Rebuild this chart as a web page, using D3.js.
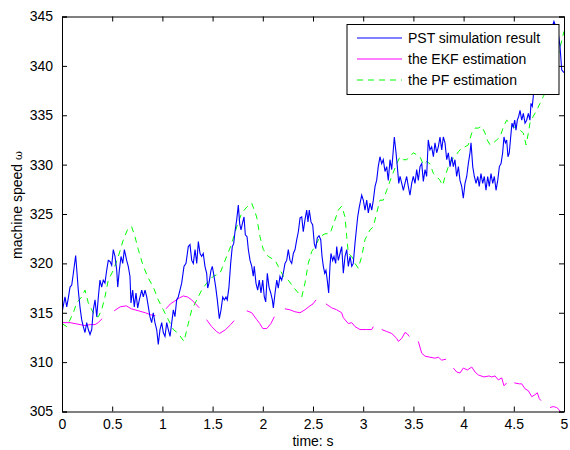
<!DOCTYPE html>
<html>
<head>
<meta charset="utf-8">
<script src="https://cdn.jsdelivr.net/npm/d3@7"></script>
<style>
	body { margin: 0; background: #fff; }
	svg { display: block; font-family: "Liberation Sans", Arial, sans-serif; }
</style>
</head>
<body>
<div class="canvas"></div>
<script>
// x ticks / y ticks
const xTicks = [0, 0.5, 1, 1.5, 2, 2.5, 3, 3.5, 4, 4.5, 5];
const yTicks = [305, 310, 315, 320, 325, 330, 335, 340, 345];

const seriesNames = ['PST simulation result', 'the EKF estimation', 'the PF estimation'];

// PST simulation result [time, speed]
const pst = [
	[0.00,315.0],[0.03,316.6],[0.047,315.6],[0.063,316.5],[0.08,317.6],[0.097,317.8],[0.113,319.0],[0.136,320.8],
	[0.146,319.5],[0.162,317.3],[0.179,315.6],[0.196,314.3],[0.212,313.6],[0.229,313.0],[0.246,314.0],[0.262,313.3],
	[0.279,312.8],[0.296,313.3],[0.312,315.3],[0.329,316.3],[0.346,314.6],[0.362,316.6],[0.378,318.3],[0.395,317.6],
	[0.411,318.3],[0.428,318.0],[0.445,319.3],[0.461,320.3],[0.478,320.2],[0.495,319.8],[0.511,321.4],[0.528,320.7],
	[0.545,319.3],[0.555,317.6],[0.571,319.3],[0.588,320.7],[0.605,320.0],[0.621,321.4],[0.644,320.3],[0.660,319.7],
	[0.677,318.7],[0.687,316.0],[0.704,317.3],[0.720,315.6],[0.737,317.0],[0.754,315.5],[0.770,316.3],[0.794,317.3],
	[0.810,316.6],[0.827,317.3],[0.844,316.6],[0.860,315.6],[0.876,314.6],[0.893,314.0],[0.909,315.0],[0.926,314.0],
	[0.943,313.3],[0.959,311.8],[0.976,313.3],[0.993,314.0],[1.009,313.0],[1.026,312.6],[1.043,314.0],[1.059,313.3],
	[1.076,312.6],[1.093,314.0],[1.109,315.3],[1.125,314.6],[1.142,316.3],[1.158,316.6],[1.175,317.3],[1.192,318.0],
	[1.215,319.7],[1.235,320.0],[1.258,321.7],[1.275,321.9],[1.292,320.3],[1.308,320.0],[1.325,321.4],[1.342,320.0],
	[1.358,322.2],[1.375,321.0],[1.391,320.7],[1.407,321.0],[1.424,319.7],[1.441,319.0],[1.451,317.5],[1.464,318.0],
	[1.484,319.3],[1.497,319.7],[1.514,318.7],[1.531,317.6],[1.547,316.3],[1.567,314.4],[1.584,315.3],[1.601,316.6],
	[1.617,316.3],[1.633,316.6],[1.646,316.3],[1.663,317.6],[1.680,320.0],[1.696,321.7],[1.710,322.0],[1.723,323.2],
	[1.740,324.4],[1.756,325.9],[1.770,324.0],[1.783,323.4],[1.796,324.0],[1.813,324.7],[1.826,322.9],[1.843,322.7],
	[1.856,321.4],[1.873,320.3],[1.890,319.7],[1.905,318.7],[1.915,319.7],[1.932,318.0],[1.949,317.3],[1.965,318.3],
	[1.982,317.0],[1.999,318.3],[2.015,316.6],[2.029,316.1],[2.045,319.0],[2.062,317.6],[2.079,317.0],[2.095,316.3],
	[2.105,315.5],[2.122,317.0],[2.139,318.3],[2.154,317.5],[2.171,318.7],[2.188,318.3],[2.204,319.0],[2.221,320.0],
	[2.238,320.3],[2.254,321.4],[2.271,320.3],[2.288,320.0],[2.304,321.0],[2.321,321.4],[2.338,322.4],[2.354,323.2],
	[2.371,324.6],[2.388,324.7],[2.403,323.2],[2.420,324.4],[2.437,325.4],[2.450,324.2],[2.463,325.4],[2.480,324.2],
	[2.497,323.9],[2.513,322.0],[2.527,321.5],[2.543,322.6],[2.560,322.8],[2.577,322.4],[2.590,320.7],[2.603,319.7],
	[2.617,319.0],[2.629,319.3],[2.642,318.3],[2.656,317.0],[2.669,319.7],[2.679,321.0],[2.696,320.3],[2.709,320.7],
	[2.726,320.0],[2.736,321.7],[2.752,320.3],[2.769,321.0],[2.786,321.7],[2.802,319.0],[2.819,320.7],[2.836,321.4],
	[2.852,319.7],[2.869,320.7],[2.886,319.7],[2.901,320.0],[2.918,322.0],[2.928,323.0],[2.945,324.7],[2.961,325.7],
	[2.985,326.9],[3.001,326.4],[3.018,325.4],[3.035,326.4],[3.051,325.1],[3.068,326.1],[3.085,325.4],[3.101,326.4],
	[3.118,327.8],[3.134,328.4],[3.150,329.8],[3.167,330.8],[3.184,330.1],[3.200,330.5],[3.217,329.3],[3.234,329.8],
	[3.250,328.4],[3.267,330.5],[3.284,329.5],[3.300,331.5],[3.310,332.8],[3.327,331.2],[3.340,329.8],[3.354,328.1],
	[3.367,328.8],[3.384,328.1],[3.400,327.4],[3.416,328.1],[3.433,328.8],[3.449,327.8],[3.466,326.9],[3.483,328.1],
	[3.499,328.8],[3.516,328.1],[3.533,329.5],[3.549,328.4],[3.566,329.8],[3.583,330.1],[3.599,328.3],[3.616,329.5],
	[3.632,328.8],[3.648,332.5],[3.665,331.5],[3.682,331.8],[3.699,330.8],[3.715,332.2],[3.732,331.2],[3.748,331.8],
	[3.765,332.8],[3.782,331.5],[3.798,332.8],[3.815,332.2],[3.832,330.5],[3.848,331.2],[3.865,329.8],[3.882,330.8],
	[3.898,329.8],[3.914,330.5],[3.931,328.8],[3.948,329.8],[3.964,328.4],[3.981,327.8],[3.997,326.6],[4.014,328.1],
	[4.031,328.8],[4.047,330.1],[4.064,331.2],[4.074,332.2],[4.091,329.8],[4.107,328.8],[4.124,328.1],[4.141,328.8],
	[4.156,327.8],[4.173,329.1],[4.190,328.1],[4.206,328.8],[4.223,327.4],[4.240,328.8],[4.256,327.8],[4.273,329.1],
	[4.290,328.1],[4.306,328.8],[4.323,327.4],[4.340,328.4],[4.356,329.8],[4.373,330.1],[4.389,331.2],[4.402,332.8],
	[4.416,332.2],[4.429,332.5],[4.442,330.8],[4.455,331.2],[4.469,332.8],[4.482,334.2],[4.495,333.8],[4.509,334.5],
	[4.522,333.5],[4.535,334.5],[4.549,334.9],[4.562,335.5],[4.579,334.5],[4.595,335.2],[4.612,334.2],[4.628,334.5],
	[4.645,335.2],[4.661,334.5],[4.671,336.2],[4.684,335.9],[4.694,336.9],[4.711,339.6],[4.728,341.3],[4.76,342.5],
	[4.80,344.0],[4.85,343.0],[4.90,344.5],[4.943,343.3],[4.960,342.0],[4.977,339.6],[4.993,339.4],[5.0,339.3]
];

// EKF estimation, null marks a gap
const ekf = [
	[0.00,314.0],[0.08,314.0],[0.13,313.9],[0.18,313.8],[0.23,313.7],[0.28,313.8],[0.33,313.8],[0.36,314.0],[0.40,314.4],
	[0.46,null],
	[0.52,315.2],[0.58,315.6],[0.64,315.7],[0.69,315.4],[0.76,315.2],[0.83,315.0],[0.88,314.8],[0.93,314.7],
	[0.98,null],
	[1.036,315.4],[1.08,315.9],[1.125,316.2],[1.17,316.5],[1.208,316.7],[1.25,316.6],[1.292,316.3],[1.33,315.9],[1.367,315.5],
	[1.40,null],
	[1.44,314.3],[1.49,313.6],[1.54,313.1],[1.57,312.9],[1.63,313.3],[1.68,313.8],[1.715,314.2],
	[1.78,null],
	[1.84,315.2],[1.89,315.0],[1.94,314.3],[1.97,313.9],[2.00,313.4],[2.04,313.4],[2.08,313.9],[2.115,314.6],
	[2.17,null],
	[2.22,315.4],[2.27,315.3],[2.32,315.1],[2.37,315.0],[2.42,315.3],[2.47,315.7],[2.50,315.9],[2.53,316.3],
	[2.58,null],
	[2.629,315.9],[2.686,315.5],[2.736,315.3],[2.786,315.0],[2.802,314.5],[2.852,313.9],[2.886,314.0],[2.918,313.6],
	[2.968,313.3],[3.035,313.3],[3.085,313.3],[3.101,313.6],
	[3.14,null],
	[3.184,313.3],[3.234,313.1],[3.284,312.9],[3.334,312.4],[3.350,312.1],[3.384,312.4],[3.416,313.0],[3.436,312.9],[3.459,312.6],
	[3.50,null],
	[3.549,312.1],[3.583,310.9],[3.616,310.6],[3.665,310.5],[3.715,310.4],[3.748,310.5],[3.782,310.2],[3.825,310.3],
	[3.86,null],
	[3.898,309.4],[3.931,309.0],[3.964,308.9],[3.997,309.4],[4.037,309.2],[4.081,309.5],[4.114,309.0],[4.147,308.7],
	[4.203,308.5],[4.253,308.6],[4.280,308.5],[4.313,308.6],[4.346,308.2],[4.380,308.4],[4.402,307.6],[4.429,307.9],
	[4.47,null],
	[4.505,307.9],[4.555,307.8],[4.579,307.8],[4.612,307.3],[4.645,307.1],[4.679,306.5],[4.711,306.7],[4.734,306.9],
	[4.754,306.3],[4.771,306.1],
	[4.82,null],
	[4.861,305.4],[4.893,305.5],[4.927,305.4],[4.950,305.2],[4.977,304.8],[5.0,304.5]
];

// PF estimation
const pf = [
	[0.00,313.9],[0.047,313.6],[0.113,315.0],[0.146,316.0],[0.196,316.6],[0.229,317.3],[0.262,316.0],[0.296,315.3],
	[0.329,314.6],[0.362,314.6],[0.395,315.3],[0.428,316.6],[0.461,318.3],[0.511,319.3],[0.561,320.7],[0.611,322.4],
	[0.660,323.6],[0.694,323.7],[0.727,322.7],[0.760,321.4],[0.810,319.7],[0.860,318.5],[0.909,317.6],[0.959,316.3],
	[1.009,315.3],[1.059,314.3],[1.109,313.3],[1.158,312.9],[1.215,312.1],[1.258,313.9],[1.292,315.3],[1.342,316.3],
	[1.391,317.3],[1.441,318.0],[1.507,318.7],[1.574,319.0],[1.640,320.7],[1.690,322.0],[1.740,323.7],[1.790,325.1],
	[1.840,325.7],[1.890,326.1],[1.939,324.7],[1.972,322.7],[2.005,321.4],[2.055,320.7],[2.122,320.3],[2.154,319.7],
	[2.204,318.7],[2.254,318.3],[2.304,317.6],[2.354,317.0],[2.388,316.6],[2.420,318.0],[2.453,320.0],[2.487,321.2],
	[2.520,321.7],[2.570,322.7],[2.620,323.0],[2.669,323.0],[2.719,324.4],[2.752,325.4],[2.786,325.8],[2.819,324.7],
	[2.836,322.7],[2.852,321.0],[2.886,320.7],[2.918,320.0],[2.951,319.5],[2.985,320.7],[3.018,322.4],[3.068,323.4],
	[3.101,323.7],[3.134,325.1],[3.167,326.4],[3.200,326.4],[3.234,327.4],[3.284,328.8],[3.334,330.1],[3.367,330.8],
	[3.400,330.5],[3.433,330.5],[3.466,330.8],[3.499,331.2],[3.533,331.0],[3.566,330.8],[3.599,330.0],[3.632,330.3],
	[3.665,330.1],[3.699,329.1],[3.732,328.8],[3.765,328.4],[3.792,327.9],[3.815,328.8],[3.848,329.8],[3.882,330.5],
	[3.914,330.8],[3.948,331.3],[3.981,331.7],[4.014,331.8],[4.047,332.0],[4.081,333.2],[4.114,333.7],[4.147,333.7],
	[4.180,333.9],[4.213,333.2],[4.236,332.5],[4.263,332.0],[4.296,332.2],[4.330,332.5],[4.363,332.8],[4.396,333.8],
	[4.429,334.5],[4.462,334.2],[4.495,333.8],[4.529,333.8],[4.562,333.5],[4.595,333.2],[4.622,332.0],[4.645,333.2],
	[4.661,334.2],[4.694,334.9],[4.728,335.5],[4.761,336.2],[4.794,336.9],[4.828,337.6],[4.88,339.0],[4.94,341.0],
	[5.0,343.5]
];

const width = 570, height = 450;
const margin = {left: 62, right: 6, top: 16.5, bottom: 38.5};

const svg = d3.select('.canvas')
	.append('svg')
	.attr('width', width)
	.attr('height', height);

const x = d3.scaleLinear().domain([0, 5]).range([margin.left, width - margin.right]);
const y = d3.scaleLinear().domain([305, 345]).range([height - margin.bottom, margin.top]);

// clip to axes box
svg.append('clipPath')
	.attr('id', 'plotclip')
	.append('rect')
		.attr('x', x(0))
		.attr('y', y(345))
		.attr('width', x(5) - x(0))
		.attr('height', y(305) - y(345));

const line = d3.line()
	.defined(d => d[1] !== null)
	.x(d => x(d[0]))
	.y(d => y(d[1]));

const plot = svg.append('g').attr('clip-path', 'url(#plotclip)');

plot.append('path')
	.attr('d', line(pf))
	.attr('fill', 'none')
	.attr('stroke', '#00ff00')
	.attr('stroke-width', 1)
	.attr('stroke-dasharray', '6,5');

plot.append('path')
	.attr('d', line(ekf))
	.attr('fill', 'none')
	.attr('stroke', '#ff00ff')
	.attr('stroke-width', 1);

plot.append('path')
	.attr('d', line(pst))
	.attr('fill', 'none')
	.attr('stroke', '#0000ff')
	.attr('stroke-width', 1.1);

// axes (inward ticks on all four sides, MATLAB box)
const fontSize = 14;
const tickLen = 5;

svg.append('g')
	.attr('transform', `translate(0,${y(305)})`)
	.call(d3.axisBottom(x).tickValues(xTicks).tickSize(-tickLen).tickPadding(8).tickFormat(d3.format('')))
	.call(g => g.selectAll('text').attr('font-size', fontSize).attr('fill', '#000').attr('font-family', null));

svg.append('g')
	.attr('transform', `translate(0,${y(345)})`)
	.call(d3.axisTop(x).tickValues(xTicks).tickSize(-tickLen).tickFormat(''));

svg.append('g')
	.attr('transform', `translate(${x(0)},0)`)
	.call(d3.axisLeft(y).tickValues(yTicks).tickSize(-tickLen).tickPadding(9))
	.call(g => g.selectAll('text').attr('font-size', fontSize).attr('fill', '#000').attr('font-family', null));

svg.append('g')
	.attr('transform', `translate(${x(5)},0)`)
	.call(d3.axisRight(y).tickValues(yTicks).tickSize(-tickLen).tickFormat(''));

svg.selectAll('.domain').attr('stroke', '#000').attr('stroke-width', 1);
svg.selectAll('.tick line').attr('stroke', '#000');

// axis labels
svg.append('text')
	.attr('x', (x(0) + x(5)) / 2)
	.attr('y', 446)
	.attr('text-anchor', 'middle')
	.attr('font-size', fontSize)
	.text('time: s');

const yl = svg.append('text')
	.attr('transform', 'translate(22,205) rotate(-90)')
	.attr('text-anchor', 'middle')
	.attr('font-size', fontSize);
yl.append('tspan').text('machine speed ');
yl.append('tspan').attr('font-family', 'DejaVu Serif').attr('font-size', 11).text('ω');

// legend
const legend = svg.append('g');
legend.append('rect')
	.attr('x', 347)
	.attr('y', 24.5)
	.attr('width', 212)
	.attr('height', 70)
	.attr('fill', '#fff')
	.attr('stroke', '#000');

const legendColours = ['#0000ff', '#ff00ff', '#00ff00'];
const legendDash = [null, null, '6,5'];

seriesNames.forEach((name, i) => {
	const ly = 38 + i * 21;
	legend.append('line')
		.attr('x1', 357).attr('x2', 402)
		.attr('y1', ly).attr('y2', ly)
		.attr('stroke', legendColours[i])
		.attr('stroke-dasharray', legendDash[i]);
	legend.append('text')
		.attr('x', 408)
		.attr('y', ly + 5)
		.attr('font-size', fontSize)
		.text(name);
});
</script>
</body>
</html>
